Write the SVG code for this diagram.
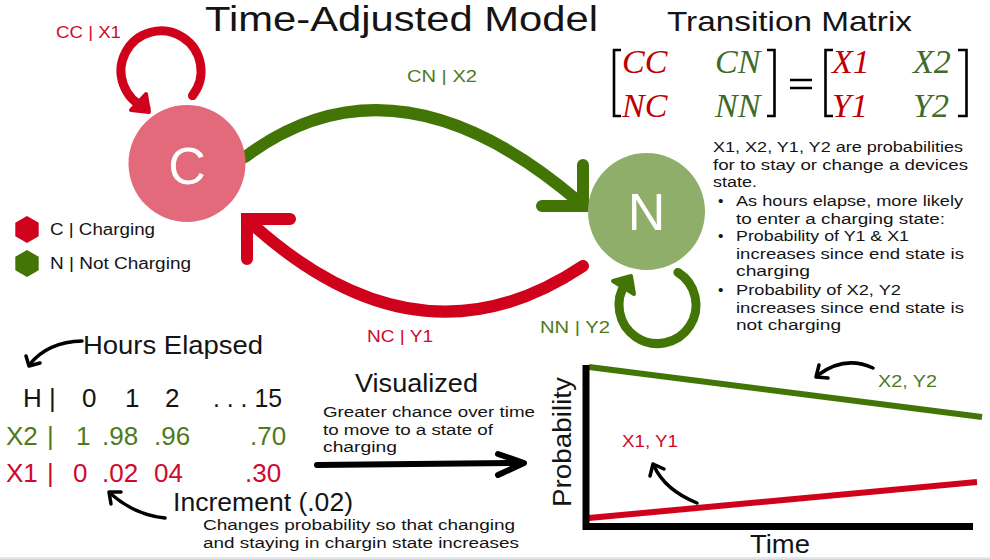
<svg xmlns="http://www.w3.org/2000/svg" width="990" height="559" viewBox="0 0 990 559">
<defs>
<style>
text{font-family:"Liberation Sans","Noto Sans",sans-serif;}
.ink{fill:#141414;}
.red{fill:#cf0a2c;}
.grn{fill:#4e7a1c;}
.math{font-family:"Liberation Serif","DejaVu Serif",serif;font-style:italic;font-size:34px;}
.mr{fill:#c00000;}
.mg{fill:#3f6b2a;}
.lbl{font-size:16px;}
.body{font-size:15.5px;fill:#141414;}
.big{font-size:26px;fill:#141414;}
.tbl{font-size:26px;}
.node{font-size:52px;fill:#ffffff;text-anchor:middle;}
.edgeR{fill:none;stroke:#d0021b;stroke-linecap:round;}
.edgeG{fill:none;stroke:#437506;stroke-linecap:round;}
.blk{fill:none;stroke:#000;stroke-linecap:round;stroke-linejoin:round;}
.brk{fill:none;stroke:#000;stroke-width:2.6;}
</style>
</defs>
<rect x="0" y="0" width="990" height="559" fill="#ffffff"/>
<rect x="0" y="557" width="990" height="2" fill="#e2e6ea"/>

<text x="205" y="31" style="font-size:34.5px" class="ink" textLength="393" lengthAdjust="spacingAndGlyphs">Time-Adjusted Model</text>
<text x="667" y="31" style="font-size:28px" class="ink" textLength="245" lengthAdjust="spacingAndGlyphs">Transition Matrix</text>

<g id="matrix">
<path class="brk" d="M621,50 H614 V116 H621"/>
<path class="brk" d="M767,50 H774.5 V116 H767"/>
<path class="brk" d="M833,50 H825.5 V116 H833"/>
<path class="brk" d="M958,50 H966.5 V116 H958"/>
<path class="brk" d="M790,80 H812 M790,88 H812"/>
<text class="math mr" x="622" y="73">CC</text>
<text class="math mg" x="715" y="73">CN</text>
<text class="math mr" x="622" y="117">NC</text>
<text class="math mg" x="715" y="117">NN</text>
<text class="math mr" x="832" y="73">X1</text>
<text class="math mg" x="913" y="73">X2</text>
<text class="math mr" x="832" y="117">Y1</text>
<text class="math mg" x="913" y="117">Y2</text>
</g>

<g id="description" class="body">
<text x="713" y="152" textLength="250" lengthAdjust="spacingAndGlyphs">X1, X2, Y1, Y2 are probabilities</text>
<text x="713" y="169.5" textLength="255" lengthAdjust="spacingAndGlyphs">for to stay or change a devices</text>
<text x="713" y="187" textLength="44" lengthAdjust="spacingAndGlyphs">state.</text>
<text x="718" y="206">•</text><text x="736" y="206" textLength="227" lengthAdjust="spacingAndGlyphs">As hours elapse, more likely</text>
<text x="736" y="223.5" textLength="209" lengthAdjust="spacingAndGlyphs">to enter a charging state:</text>
<text x="718" y="241">•</text><text x="736" y="241" textLength="173" lengthAdjust="spacingAndGlyphs">Probability of Y1 &amp; X1</text>
<text x="736" y="258.5" textLength="228" lengthAdjust="spacingAndGlyphs">increases since end state is</text>
<text x="736" y="276" textLength="74" lengthAdjust="spacingAndGlyphs">charging</text>
<text x="718" y="295">•</text><text x="736" y="295" textLength="165" lengthAdjust="spacingAndGlyphs">Probability of X2, Y2</text>
<text x="736" y="312.5" textLength="228" lengthAdjust="spacingAndGlyphs">increases since end state is</text>
<text x="736" y="330" textLength="105" lengthAdjust="spacingAndGlyphs">not charging</text>
</g>

<g id="connectors">
<!-- C self loop -->
<path class="edgeR" stroke-width="9" stroke-linecap="butt" d="M192.5,95.6 A40,40 0 1 0 146,108"/>
<polygon points="149,112 131,110 146,94" fill="#d0021b" stroke="#d0021b" stroke-width="4" stroke-linejoin="round"/>
<!-- C to N -->
<path class="edgeG" stroke-width="12" d="M245,157 Q395,45 578,201"/>
<path class="edgeG" stroke-width="12" stroke-linejoin="miter" d="M583,165 L583,206 L542,206"/>
<!-- N to C -->
<path class="edgeR" stroke-width="12" d="M583,266 Q420,375 252,224"/>
<path class="edgeR" stroke-width="12" stroke-linejoin="miter" d="M290,219 L247,219 L247,259"/>
<!-- N self loop -->
<path class="edgeG" stroke-width="9" stroke-linecap="butt" d="M677.9,272.4 A38.5,38.5 0 1 1 626,282.9"/>
<polygon points="631,276 613,281 634,294" fill="#437506" stroke="#437506" stroke-width="4" stroke-linejoin="round"/>
</g>

<text class="lbl red" x="56" y="38" textLength="65" lengthAdjust="spacingAndGlyphs">CC | X1</text>
<text class="lbl grn" x="407" y="82" textLength="70" lengthAdjust="spacingAndGlyphs">CN | X2</text>
<text class="lbl red" x="367" y="342" textLength="66" lengthAdjust="spacingAndGlyphs">NC | Y1</text>
<text class="lbl grn" x="540" y="333" textLength="70" lengthAdjust="spacingAndGlyphs">NN | Y2</text>

<g id="node-C">
<circle cx="187" cy="163.5" r="58.5" fill="#e26a7a"/>
<text class="node" x="187" y="184">C</text>
</g>
<g id="node-N">
<circle cx="646.5" cy="211.5" r="58.5" fill="#8fae6a"/>
<text class="node" x="646.5" y="230">N</text>
</g>

<g id="legend">
<polygon points="27,216 38.7,222.75 38.7,236.25 27,243 15.3,236.25 15.3,222.75" fill="#d0021b"/>
<polygon points="27,250 38.7,256.75 38.7,270.25 27,277 15.3,270.25 15.3,256.75" fill="#437506"/>
<text x="50" y="235" class="lbl ink" textLength="105" lengthAdjust="spacingAndGlyphs">C | Charging</text>
<text x="50" y="269" class="lbl ink" textLength="141" lengthAdjust="spacingAndGlyphs">N | Not Charging</text>
</g>

<g id="hours">
<text x="83" y="354" class="big" textLength="180" lengthAdjust="spacingAndGlyphs">Hours Elapsed</text>
<path class="blk" stroke-width="3.5" d="M82,341 Q48,342 30,364"/>
<path class="blk" stroke-width="3.5" d="M26,356 L29,366 L40,363"/>
<g class="tbl ink">
<text x="23" y="407">H</text><text x="49" y="407">|</text>
<text x="82" y="407">0</text><text x="125" y="407">1</text><text x="165" y="407">2</text><text x="213" y="407" textLength="69" lengthAdjust="spacingAndGlyphs">. . . 15</text>
</g>
<g class="tbl grn">
<text x="6" y="445">X2</text><text x="47" y="445">|</text>
<text x="76" y="445">1</text><text x="102" y="445">.98</text><text x="154" y="445">.96</text><text x="250" y="445">.70</text>
</g>
<g class="tbl red">
<text x="6" y="482">X1</text><text x="47" y="482">|</text>
<text x="73" y="482">0</text><text x="102" y="482">.02</text><text x="154" y="482">04</text><text x="245" y="482">.30</text>
</g>
<text x="173" y="511" class="big" style="font-size:25.5px" textLength="180" lengthAdjust="spacingAndGlyphs">Increment (.02)</text>
<path class="blk" stroke-width="3.5" d="M165,518 Q135,515 111,494"/>
<path class="blk" stroke-width="3.5" d="M111,504 L109,492 L121,492"/>
<text x="203" y="530" class="body" textLength="312" lengthAdjust="spacingAndGlyphs">Changes probability so that changing</text>
<text x="203" y="548" class="body" textLength="316" lengthAdjust="spacingAndGlyphs">and staying in chargin state increases</text>
</g>

<g id="visualized">
<text x="355" y="392" class="big" textLength="123" lengthAdjust="spacingAndGlyphs">Visualized</text>
<text x="323" y="417" class="body" textLength="212" lengthAdjust="spacingAndGlyphs">Greater chance over time</text>
<text x="323" y="434.5" class="body" textLength="170" lengthAdjust="spacingAndGlyphs">to move to a state of</text>
<text x="323" y="452" class="body" textLength="74" lengthAdjust="spacingAndGlyphs">charging</text>
<path class="blk" stroke-width="6" d="M317,465 L522,463"/>
<path class="blk" stroke-width="6" d="M498,454 L524,463 L498,475"/>
</g>

<g id="chart">
<path d="M589,367 L982,417" stroke="#437506" stroke-width="6" fill="none"/>
<path d="M589,518 L977,482" stroke="#d0021b" stroke-width="6" fill="none"/>
<path d="M586,365 V526.5 H973" stroke="#000" stroke-width="7" fill="none"/>
<text transform="translate(571,377) rotate(-90)" text-anchor="end" style="font-size:26px" class="ink" x="0" y="0" textLength="130" lengthAdjust="spacingAndGlyphs">Probability</text>
<text x="750" y="553" class="big" textLength="60" lengthAdjust="spacingAndGlyphs">Time</text>
<text x="878" y="387" class="lbl grn" style="font-size:17px" textLength="59" lengthAdjust="spacingAndGlyphs">X2, Y2</text>
<path class="blk" stroke-width="3.5" d="M873,368 Q845,355 818,375"/>
<path class="blk" stroke-width="3.5" d="M819,365 L816,377 L828,378"/>
<text x="622" y="447" class="lbl red" style="font-size:17px" textLength="56" lengthAdjust="spacingAndGlyphs">X1, Y1</text>
<path class="blk" stroke-width="3.5" d="M697,503 Q665,490 654,466"/>
<path class="blk" stroke-width="3.5" d="M650,476 L653,464 L664,469"/>
</g>
</svg>
